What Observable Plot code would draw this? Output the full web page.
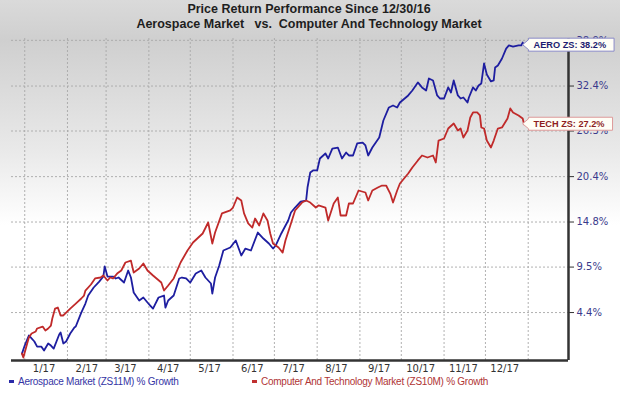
<!DOCTYPE html>
<html><head><meta charset="utf-8">
<script src="https://cdn.jsdelivr.net/npm/d3@7"></script>
<script src="https://cdn.jsdelivr.net/npm/@observablehq/plot@0.6"></script>
<style>
body{margin:0;background:#fff;}
#wrap{position:relative;width:620px;height:395px;overflow:hidden;
 background:linear-gradient(to bottom,#dadada 0px,#cfcfcf 40px,#e9e9e9 150px,#ffffff 225px);
 font-family:"Liberation Sans",Arial,sans-serif;}
#chart{position:absolute;left:0;top:0;}
.title{position:absolute;left:0;width:618px;text-align:center;font-weight:bold;font-size:12.5px;color:#1e1e1e;white-space:pre;line-height:15px;}
.leg{position:absolute;top:375px;font-size:10px;letter-spacing:-0.25px;white-space:pre;line-height:14px;}
.leg i{display:inline-block;width:5px;height:2.5px;vertical-align:middle;margin-right:4px;position:relative;top:-1px;}
</style></head><body>
<div id="wrap">
 <div id="chart"></div>
 <div class="title" style="top:2px">Price Return Performance Since 12/30/16</div>
 <div class="title" style="top:17px">Aerospace Market   vs.  Computer And Technology Market</div>
 <div class="leg" style="left:9px;color:#3535a5"><i style="background:#2a2aa8"></i>Aerospace Market (ZS11M) % Growth</div>
 <div class="leg" style="left:252px;color:#b03535"><i style="background:#c03030"></i>Computer And Technology Market (ZS10M) % Growth</div>
</div>
<script>
// Series: [date, % growth since 12/30/16]
const aero = [
["2016-12-30",0],["2017-01-01",0.85],["2017-01-04",1.92],["2017-01-08",1.28],["2017-01-10",0.74],
["2017-01-13",0.74],["2017-01-15",0.32],["2017-01-18",1.07],["2017-01-20",0.85],["2017-01-22",0.53],
["2017-01-26",2.02],["2017-01-27",2.24],["2017-01-29",1.07],["2017-01-31",1.28],["2017-02-03",2.13],
["2017-02-06",2.78],["2017-02-07",2.88],["2017-02-11",4.40],["2017-02-14",5.39],["2017-02-16",6.28],
["2017-02-20",7.18],["2017-02-24",7.85],["2017-02-27",8.42],["2017-02-28",9.57],["2017-03-02",8.42],
["2017-03-06",8.42],["2017-03-08",8.20],["2017-03-10",8.31],["2017-03-14",7.74],["2017-03-17",9.11],
["2017-03-19",8.31],["2017-03-21",6.62],["2017-03-25",5.73],["2017-03-28",6.06],["2017-03-31",5.51],
["2017-04-02",5.17],["2017-04-04",4.84],["2017-04-08",6.06],["2017-04-12",6.28],["2017-04-13",4.95],
["2017-04-15",5.73],["2017-04-19",6.28],["2017-04-23",8.20],["2017-04-25",8.31],["2017-04-28",8.20],
["2017-05-01",7.74],["2017-05-05",8.76],["2017-05-09",9.11],["2017-05-12",8.31],["2017-05-16",7.63],
["2017-05-17",6.50],["2017-05-19",8.31],["2017-05-22",9.68],["2017-05-25",11.42],["2017-05-30",11.77],
["2017-06-03",12.59],["2017-06-07",10.84],["2017-06-10",11.65],["2017-06-14",11.42],["2017-06-19",13.54],
["2017-06-23",12.83],["2017-06-27",12.24],["2017-06-30",11.65],["2017-07-02",12.01],["2017-07-06",13.43],
["2017-07-11",14.98],["2017-07-13",15.95],["2017-07-16",16.56],["2017-07-20",17.29],["2017-07-24",17.42],
["2017-07-25",19.03],["2017-07-27",20.92],["2017-07-29",21.18],["2017-08-01",21.18],["2017-08-03",22.71],
["2017-08-07",23.36],["2017-08-09",22.71],["2017-08-12",24.00],["2017-08-16",24.13],["2017-08-19",22.71],
["2017-08-22",23.48],["2017-08-24",23.10],["2017-08-27",23.10],["2017-08-30",24.66],["2017-09-03",24.78],
["2017-09-05",24.40],["2017-09-07",23.10],["2017-09-10",24.13],["2017-09-12",24.66],["2017-09-15",25.44],
["2017-09-18",27.70],["2017-09-22",29.46],["2017-09-25",29.73],["2017-09-28",29.46],["2017-09-30",30.13],
["2017-10-06",31.10],["2017-10-09",31.78],["2017-10-13",32.90],["2017-10-16",32.21],["2017-10-19",31.78],
["2017-10-21",33.46],["2017-10-24",33.18],["2017-10-27",31.10],["2017-10-29",30.68],["2017-11-01",30.68],
["2017-11-04",32.21],["2017-11-06",31.51],["2017-11-08",33.18],["2017-11-11",31.10],["2017-11-13",30.68],
["2017-11-15",30.82],["2017-11-18",30.13],["2017-11-19",30.82],["2017-11-22",32.21],["2017-11-24",31.78],
["2017-11-26",32.48],["2017-11-28",32.76],["2017-11-30",35.57],["2017-12-02",34.02],["2017-12-05",33.04],
["2017-12-07",33.18],["2017-12-08",35.00],["2017-12-10",35.29],["2017-12-13",36.28],["2017-12-16",37.71],
["2017-12-18",38.16],["2017-12-21",38.00],["2017-12-25",38.16],["2017-12-27",38.16],["2017-12-28",38.58],
["2017-12-29",38.2]
];
const tech = [
["2016-12-30",0],["2016-12-31",-0.41],["2017-01-02",0.64],["2017-01-04",1.70],["2017-01-06",2.13],
["2017-01-09",2.35],["2017-01-10",2.67],["2017-01-14",2.88],["2017-01-16",2.45],["2017-01-18",2.67],
["2017-01-20",2.99],["2017-01-21",3.75],["2017-01-23",4.84],["2017-01-25",4.95],["2017-01-27",4.08],
["2017-01-29",4.08],["2017-01-31",4.40],["2017-02-03",4.84],["2017-02-07",5.39],["2017-02-11",5.95],
["2017-02-13",6.28],["2017-02-14",6.84],["2017-02-18",7.52],["2017-02-21",8.20],["2017-02-25",8.31],
["2017-02-27",8.54],["2017-03-02",7.97],["2017-03-04",8.31],["2017-03-06",8.20],["2017-03-09",8.76],
["2017-03-12",9.11],["2017-03-15",10.03],["2017-03-19",10.25],["2017-03-21",8.88],["2017-03-25",9.34],
["2017-03-28",9.91],["2017-03-31",9.11],["2017-04-04",8.54],["2017-04-10",7.74],["2017-04-12",6.84],
["2017-04-15",7.40],["2017-04-19",8.20],["2017-04-24",10.03],["2017-04-29",11.42],["2017-05-03",12.36],
["2017-05-10",13.43],["2017-05-14",14.74],["2017-05-17",12.24],["2017-05-19",13.54],["2017-05-24",15.84],
["2017-05-30",16.20],["2017-06-01",16.56],["2017-06-04",17.79],["2017-06-07",17.42],["2017-06-09",15.84],
["2017-06-12",14.63],["2017-06-15",14.14],["2017-06-17",15.22],["2017-06-20",14.38],["2017-06-23",15.84],
["2017-06-26",14.98],["2017-06-28",13.43],["2017-06-30",12.24],["2017-07-04",11.77],["2017-07-07",11.18],
["2017-07-09",12.59],["2017-07-13",14.63],["2017-07-16",16.20],["2017-07-21",17.17],["2017-07-24",17.42],
["2017-07-27",17.17],["2017-07-31",16.56],["2017-08-02",16.81],["2017-08-07",16.56],["2017-08-09",14.98],
["2017-08-13",17.05],["2017-08-16",17.79],["2017-08-18",15.59],["2017-08-22",15.59],["2017-08-24",17.05],
["2017-08-27",17.05],["2017-08-31",18.66],["2017-09-05",18.41],["2017-09-07",17.42],["2017-09-10",18.66],
["2017-09-14",19.03],["2017-09-17",19.28],["2017-09-20",19.28],["2017-09-23",18.28],["2017-09-25",17.17],
["2017-09-28",18.66],["2017-09-30",19.53],["2017-10-06",20.79],["2017-10-09",21.56],["2017-10-13",22.46],
["2017-10-16",23.10],["2017-10-20",22.84],["2017-10-24",23.10],["2017-10-26",22.20],["2017-10-28",25.04],
["2017-11-01",25.31],["2017-11-04",26.63],["2017-11-08",27.30],["2017-11-11",26.37],["2017-11-13",26.63],
["2017-11-15",25.44],["2017-11-18",26.37],["2017-11-20",28.11],["2017-11-22",28.78],["2017-11-25",28.78],
["2017-11-27",28.38],["2017-11-28",26.77],["2017-11-30",26.63],["2017-12-02",25.04],["2017-12-05",24.13],
["2017-12-07",25.04],["2017-12-10",26.63],["2017-12-13",26.77],["2017-12-17",27.97],["2017-12-19",29.32],
["2017-12-21",28.78],["2017-12-25",28.38],["2017-12-28",27.97],["2017-12-29",27.2]
];
const seriesNames = ["AERO ZS", "TECH ZS"];
const seriesColors = ["#1e1ea0", "#c02a2a"];
const yTickLabels = [4.4, 9.5, 14.8, 20.4, 26.3, 32.4, 38.9];   // % growth
const monthGrid = ["2017-01-01","2017-02-01","2017-03-01","2017-04-01","2017-05-01","2017-06-01",
  "2017-07-01","2017-08-01","2017-09-01","2017-10-01","2017-11-01","2017-12-01","2018-01-01"];
const monthLabels = ["2017-01-15","2017-02-15","2017-03-15","2017-04-15","2017-05-15","2017-06-15",
  "2017-07-15","2017-08-15","2017-09-15","2017-10-15","2017-11-15","2017-12-15"];
const xDomain = [new Date("2016-12-22T10:00Z"), new Date("2018-01-30T05:00Z")];
const yDomainPct = [-0.72, 39.17];

const parse = d3.utcParse("%Y-%m-%d");
const rows = [];
[aero, tech].forEach((s, i) => s.forEach(([d, v]) => rows.push({date: parse(d), g: 100 + v, pct: v, series: seriesNames[i]})));
const yTicks = yTickLabels.map(v => 100 + v);
const fmtPct = d => (d - 100).toFixed(1) + "%";

const chart = Plot.plot({
  width: 620, height: 395,
  marginTop: 38, marginBottom: 35, marginLeft: 11, marginRight: 52,
  style: {background: "transparent", fontFamily: "'DejaVu Sans', Verdana, sans-serif", fontSize: "10px", overflow: "visible"},
  x: {type: "utc", domain: xDomain},
  y: {type: "log", domain: yDomainPct.map(v => 100 + v)},
  color: {domain: seriesNames, range: seriesColors},
  marks: [
    Plot.gridX(monthGrid.map(parse), {stroke: "#a9a9a9", strokeOpacity: 0.9, strokeDasharray: "2,2", strokeWidth: 1}),
    Plot.gridY(yTicks, {stroke: "#a9a9a9", strokeOpacity: 0.9, strokeDasharray: "2,2", strokeWidth: 1}),
    Plot.axisY(yTicks, {anchor: "right", tickSize: 5, tickPadding: 3, tickFormat: fmtPct, label: null, stroke: "#333", fill: "#3a3a8c"}),
    Plot.axisX(monthLabels.map(parse), {anchor: "bottom", tickSize: 0, tickPadding: 4, tickFormat: d3.utcFormat("%-m/%y"), label: null, fill: "#333"}),
    Plot.line(rows, {x: "date", y: "g", z: "series", stroke: "series", strokeWidth: 1.8, strokeLinejoin: "round"}),
    Plot.ruleY([100 + yDomainPct[0]], {stroke: "#333", strokeWidth: 2.5}),
    Plot.ruleX([xDomain[1]], {stroke: "#333", strokeWidth: 2.5})
  ]
});
document.getElementById("chart").appendChild(chart);

// End-of-series callouts placed with the plot's own scales
const sx = chart.scale("x"), sy = chart.scale("y");
const fx = sx.apply ? (v => sx.apply(v)) : d3.scaleUtc(sx.domain, sx.range);
const fy = sy.apply ? (v => sy.apply(v)) : d3.scaleLog(sy.domain, sy.range);
const svg = d3.select(chart);
const callStyles = [
  {stroke: "#8a8ac8", text: "#1c1c70"},
  {stroke: "#dd9a9a", text: "#8e1f1f"}
];
[aero, tech].forEach((s, i) => {
  const [d, v] = s[s.length - 1];
  const px = fx(parse(d)) - 1, py = fy(100 + v);
  const g = svg.append("g");
  const path = g.append("path");
  const t = g.append("text")
    .attr("x", px + 11).attr("y", py).attr("dy", "0.35em")
    .attr("text-anchor", "start")
    .attr("font-family", "'Liberation Sans', Arial, sans-serif")
    .attr("font-weight", "bold").attr("font-size", "9.2px")
    .attr("fill", callStyles[i].text)
    .text(`${seriesNames[i]}: ${v.toFixed(1)}%`);
  const w = t.node().getComputedTextLength();
  const bx = px + 6, right = bx + w + 13, top = py - 6.5, bot = py + 6.5;
  path.attr("d", `M${px},${py}L${bx},${py - 5}L${bx},${top}L${right},${top}L${right},${bot}L${bx},${bot}L${bx},${py + 5}Z`)
    .attr("fill", "#fffef6").attr("stroke", callStyles[i].stroke).attr("stroke-width", 1);
});
</script>
</body></html>
